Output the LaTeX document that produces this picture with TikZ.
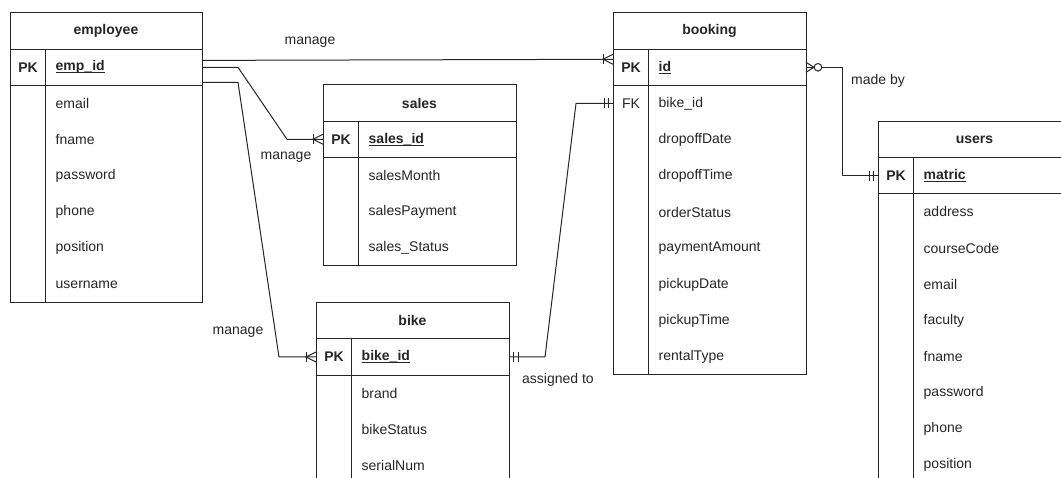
\documentclass[tikz,border=0pt]{standalone}
\usepackage{fontspec}
\setmainfont{Liberation Sans}

% underline drawn close to the baseline
\newcommand{\keyul}[1]{\setbox0\hbox{#1}\rlap{\rule[-2.4pt]{\wd0}{0.9pt}}\box0}

\tikzset{
  erline/.style={draw=black!85, line width=1pt},
  erframe/.style={erline, rectangle, inner sep=0pt, outer sep=0pt, anchor=north west},
  rowbox/.style={rectangle, inner sep=0pt, outer sep=0pt, anchor=north west, minimum height=36.2pt},
  txt/.style={font=\fontsize{14}{16}\selectfont, text=black!85, inner sep=0pt},
  tabletitle/.style={txt, font=\fontsize{14}{16}\selectfont\bfseries},
  keytag/.style={tabletitle},
  attr/.style={txt, anchor=west},
  keyname/.style={attr, font=\fontsize{14}{16}\selectfont\bfseries},
  erlink/.style={erline, line join=round},
  lbl/.style={txt},
  % relationship end markers: origin on the entity edge, line leaving towards -x
  pics/onemany/.style={code={
    \draw[erline] (0,-5) -- (-10,0) -- (0,5);
    \draw[erline] (-10,-5) -- (-10,5);}},
  pics/onlyone/.style={code={
    \draw[erline] (-4.5,-5) -- (-4.5,5);
    \draw[erline] (-9,-5) -- (-9,5);}},
  pics/zeromany/.style={code={
    \draw[erline] (0,-5) -- (-8,0) -- (0,5);
    \draw[erline, fill=white] (-12,0) circle (3.8);}},
}

% #1 id, #2 left, #3 top, #4 width, #5 attribute rows, #6 title, #7 key field, #8 attributes
\newcommand{\ertable}[8]{%
  \begin{scope}[shift={(#2,#3)}]
    \node[erframe, minimum width=#4pt, minimum height={(#5+2)*36.2pt}] (#1) at (0,0) {};
    \draw[erline] (0,36.2) -- (#4,36.2) (0,72.4) -- (#4,72.4) (35.5,36.2) -- (35.5,{(#5+2)*36.2});
    \node[tabletitle] (#1-title) at ({#4/2},18.1) {#6};
    \node[rowbox, minimum width=#4pt] (#1-pk) at (0,36.2) {};
    \node[keytag] (#1-pktag) at (18,54.3) {PK};
    \node[keyname] (#1-key) at (45.5,54.3) {\keyul{#7}};
    \foreach \a [count=\i] in {#8}
      \node[attr] (#1-a\i) at (45.5,{72.4+36.2*(\i-0.5)}) {\a};
  \end{scope}
}

\begin{document}
\begin{tikzpicture}[x=1pt, y=-1pt]
  \useasboundingbox (0,0) rectangle (1061,478);
  \fill[white] (0,0) rectangle (1061,478);
  \clip (0,0) rectangle (1061,478);

  % entities
  \ertable{emp}{10}{13}{192}{6}{employee}{emp\_id}{email,fname,password,phone,position,username}
  \ertable{sales}{323}{85}{193}{3}{sales}{sales\_id}{salesMonth,salesPayment,sales\_Status}
  \ertable{bike}{316}{302.7}{193}{3}{bike}{bike\_id}{brand,bikeStatus,serialNum}
  \ertable{book}{613}{13}{193}{8}{booking}{id}{bike\_id,dropoffDate,dropoffTime,orderStatus,paymentAmount,pickupDate,pickupTime,rentalType}
  \ertable{users}{878}{121.3}{193}{8}{users}{matric}{address,courseCode,email,faculty,fname,password,phone,position}

  % foreign key tag in booking
  \node[txt] (book-fktag) at (631,103.5) {FK};
  \coordinate (book-fkin) at (book-fktag -| book.west);

  % relationships
  \draw[erlink] ([yshift=7pt]emp-pk.east) -- ++(36,0) -- ([yshift=8pt]book-pk.west);
  \draw[erlink] (emp-pk.east) -- ++(36,0) -- ([xshift=-36pt]sales-pk.west) -- (sales-pk.west);
  \draw[erlink] ([yshift=-15pt]emp-pk.east) -- ++(36,0) -- ([xshift=-37pt]bike-pk.west) -- (bike-pk.west);
  \draw[erlink] (bike-pk.east) -- ++(36,0) -- ([xshift=-37pt]book-fkin) -- (book-fkin);
  \draw[erlink] (book-pk.east) -- ++(36,0) -- ([xshift=-36pt]users-pk.west) -- (users-pk.west);

  % cardinality markers
  \pic at ([yshift=8pt]book-pk.west) {onemany};
  \pic at (sales-pk.west) {onemany};
  \pic at (bike-pk.west) {onemany};
  \pic[xscale=-1] at (bike-pk.east) {onlyone};
  \pic at (book-fkin) {onlyone};
  \pic[xscale=-1] at (book-pk.east) {zeromany};
  \pic at (users-pk.west) {onlyone};

  % relationship labels
  \node[lbl] (l-manage1) at (310,42) {manage};
  \node[lbl] (l-manage2) at (286,157) {manage};
  \node[lbl] (l-manage3) at (238,332) {manage};
  \node[lbl] (l-assigned) at (558,380) {assigned to};
  \node[lbl] (l-madeby) at (878,81) {made by};
\end{tikzpicture}
\end{document}
